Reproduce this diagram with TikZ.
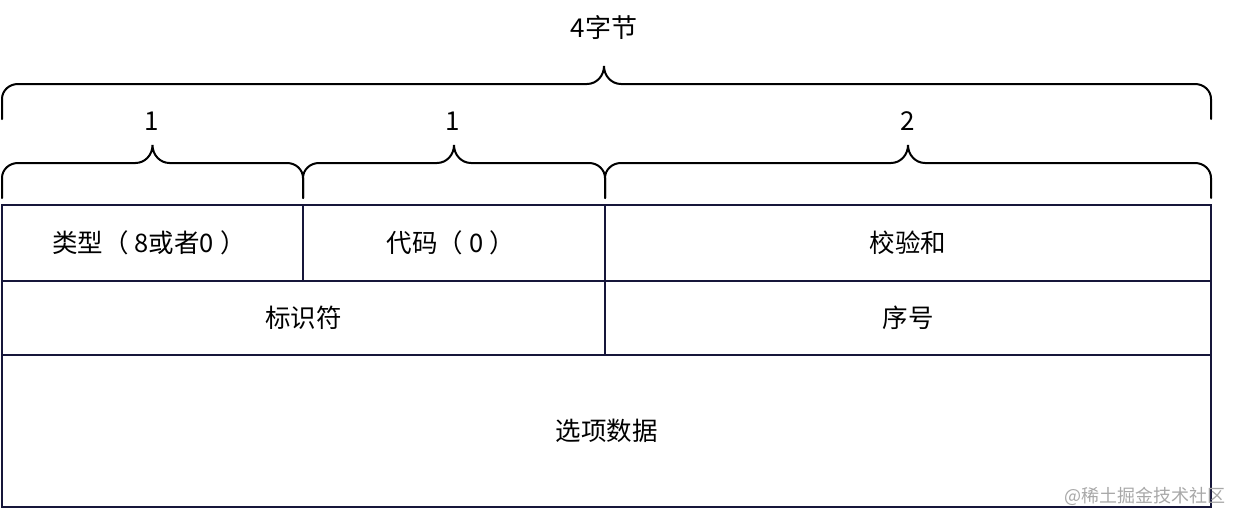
\documentclass[tikz,border=0pt]{standalone}
\usepackage{fontspec}
\setmainfont{Noto Sans CJK SC}
\definecolor{navy}{HTML}{16163A}
\definecolor{wm}{HTML}{A8A8A8}
\begin{document}
\begin{tikzpicture}[x=1pt,y=-1pt,
  cell/.style={draw=navy,line width=1.8pt,rectangle,inner sep=0pt,font=\fontsize{25.5}{28}\selectfont},
  celltext/.style={inner sep=0pt,font=\fontsize{25.5}{28}\selectfont},
  lbl/.style={inner sep=0pt,font=\fontsize{26}{30}\selectfont},
  bracepath/.style={draw=black,line width=2pt,line cap=round}]
\useasboundingbox (0,0) rectangle (1242,522);
% table
\node[cell,minimum width=301pt,minimum height=76pt] (type) at (152.5,243) {};
\node[celltext] (typet) at (149,243) {类型（\hspace{6pt}8或者0\hspace{6pt}）};
\node[cell,minimum width=302pt,minimum height=76pt] (code) at (454,243) {};
\node[celltext] (codet) at (451,243) {代码（\hspace{6pt}0\hspace{6pt}）};
\node[cell,minimum width=606pt,minimum height=76pt] (sum) at (908,243) {校验和};
\node[cell,minimum width=603pt,minimum height=74pt] (ident) at (303.5,318) {标识符};
\node[cell,minimum width=606pt,minimum height=74pt] (seq) at (908,318) {序号};
\node[cell,minimum width=1209pt,minimum height=152pt] (data) at (606.5,431) {选项数据};
% small braces
\foreach \xa/\xb in {2/303,303/605,605/1211}{
  \pgfmathsetmacro{\xm}{(\xa+\xb)/2}
  \draw[bracepath] (\xa,198) -- (\xa,178) to[out=90,in=180] (\xa+16,163) -- (\xm-17,163)
    to[out=0,in=-90] (\xm,145) to[out=-90,in=180] (\xm+17,163) -- (\xb-16,163)
    to[out=0,in=90] (\xb,178) -- (\xb,198);
}
% big brace
\draw[bracepath] (2,119) -- (2,99) to[out=90,in=180] (18,84) -- (587,84)
  to[out=0,in=-90] (604,66) to[out=-90,in=180] (621,84) -- (1195,84)
  to[out=0,in=90] (1211,99) -- (1211,119);
% labels
\node[lbl] (l1) at (152,121) {1};
\node[lbl] (l2) at (453,121) {1};
\node[lbl] (l3) at (908,121) {2};
\node[lbl] (total) at (604,28) {4字节};
% watermark
\node[inner sep=0pt,text=wm,font=\fontsize{18}{20}\selectfont,anchor=east] (wmk) at (1226,496) {@稀土掘金技术社区};
\end{tikzpicture}
\end{document}
